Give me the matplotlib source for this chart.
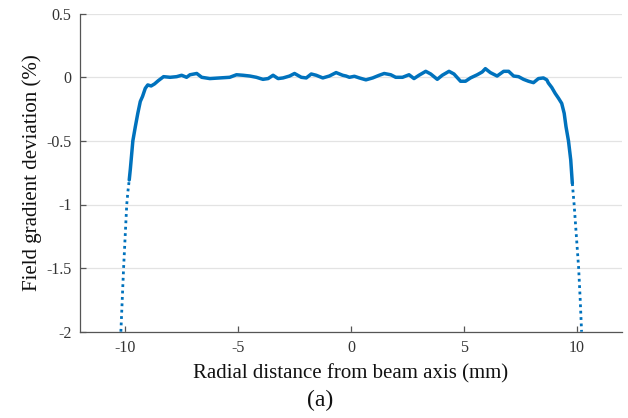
import matplotlib
matplotlib.use("Agg")
import matplotlib.pyplot as plt

plt.rcParams['font.family'] = ['Liberation Serif', 'DejaVu Serif']
plt.rcParams['axes.unicode_minus'] = False

# ---- data ----
# steep left flank (drawn dotted, sparse sample points)
left_x = [-10.19, -10.13, -10.07, -10.00, -9.93, -9.88, -9.82]
left_y = [-2.00, -1.75, -1.50, -1.25, -1.00, -0.90, -0.807]

# main body (dense points merge into a solid trace)
body_x = [-9.82, -9.77, -9.72, -9.66, -9.55, -9.44, -9.33, -9.23, -9.11, -9.00,
          -8.85, -8.70, -8.53, -8.30, -8.01, -7.72, -7.50, -7.28, -7.13, -6.83,
          -6.61, -6.25, -5.81, -5.37, -5.07, -4.78, -4.48, -4.19, -3.90, -3.67,
          -3.45, -3.23, -3.01, -2.72, -2.50, -2.20, -1.98, -1.76, -1.54, -1.25,
          -0.96, -0.66, -0.37, -0.22, -0.07, 0.15, 0.37, 0.66, 0.96, 1.25,
          1.47, 1.76, 1.98, 2.28, 2.57, 2.79, 3.01, 3.31, 3.53, 3.82,
          4.04, 4.34, 4.56, 4.85, 5.07, 5.29, 5.59, 5.81, 5.95, 6.17,
          6.47, 6.76, 6.98, 7.20, 7.42, 7.64, 7.86, 8.08, 8.30, 8.52,
          8.67, 8.74, 8.89, 9.04, 9.19, 9.33, 9.44, 9.52, 9.63, 9.73, 9.80]
body_y = [-0.807, -0.72, -0.62, -0.50, -0.388, -0.283, -0.19, -0.15, -0.087, -0.06,
          -0.068, -0.052, -0.026, 0.005, 0.000, 0.005, 0.016, 0.000, 0.020, 0.030,
          0.000, -0.010, -0.005, 0.000, 0.020, 0.016, 0.010, 0.000, -0.016, -0.010,
          0.016, -0.010, -0.005, 0.010, 0.030, 0.000, -0.005, 0.026, 0.016, -0.005,
          0.010, 0.037, 0.016, 0.010, 0.000, 0.008, -0.005, -0.020, -0.005, 0.016,
          0.030, 0.020, 0.000, 0.000, 0.020, -0.010, 0.016, 0.047, 0.026, -0.016,
          0.016, 0.047, 0.026, -0.031, -0.031, -0.005, 0.020, 0.042, 0.068, 0.037,
          0.010, 0.047, 0.047, 0.010, 0.005, -0.016, -0.031, -0.042, -0.010, -0.005,
          -0.020, -0.045, -0.080, -0.126, -0.165, -0.205, -0.283, -0.388, -0.50, -0.65, -0.833]

# steep right flank (drawn dotted)
right_x = [9.80, 9.88, 9.98, 10.08, 10.15, 10.21]
right_y = [-0.833, -1.00, -1.25, -1.50, -1.75, -2.00]

xticks = [-10, -5, 0, 5, 10]
yticks = [-2, -1.5, -1, -0.5, 0, 0.5]
xlabel = "Radial distance from beam axis (mm)"
ylabel = "Field gradient deviation (%)"
caption = "(a)"

color = "#0072BD"
axis_color = "#555555"

fig = plt.figure(figsize=(6.28, 4.18), dpi=100)
ax = fig.add_axes([80/628, 1 - 331.7/418, 542/628, (331.7 - 13.7)/418])

ax.plot(body_x, body_y, color=color, lw=2.5, solid_joinstyle='round', solid_capstyle='round', zorder=3)
for xs, ys in ((left_x, left_y), (right_x, right_y)):
    ax.plot(xs, ys, color=color, lw=2.0, linestyle=(0, (1.0, 1.3)), dash_capstyle='butt', zorder=3)

ax.set_xlim(-12, 12)
ax.set_ylim(-2, 0.5)
ax.set_xticks(xticks)
ax.set_xticklabels([f"{t:g}" for t in xticks])
ax.set_yticks(yticks)
ax.set_yticklabels([f"{t:g}" for t in yticks])

ax.yaxis.grid(True, color="#e3e3e3", lw=0.9)
ax.set_axisbelow(True)
for s in ("top", "right"):
    ax.spines[s].set_visible(False)
for s in ("left", "bottom"):
    ax.spines[s].set_color(axis_color)
    ax.spines[s].set_linewidth(0.9)
ax.tick_params(direction='in', length=4, width=0.9, color=axis_color,
               labelcolor="#333333", labelsize=11.5, pad=6)

ax.set_xlabel(xlabel, fontsize=15, color="#111111", labelpad=6)
ax.set_ylabel(ylabel, fontsize=15, color="#111111", labelpad=3)
fig.text(320/628, 1 - 400/418, caption, fontsize=17, ha='center', va='center', color="#111111")

fig.savefig("out.png", dpi=100)
